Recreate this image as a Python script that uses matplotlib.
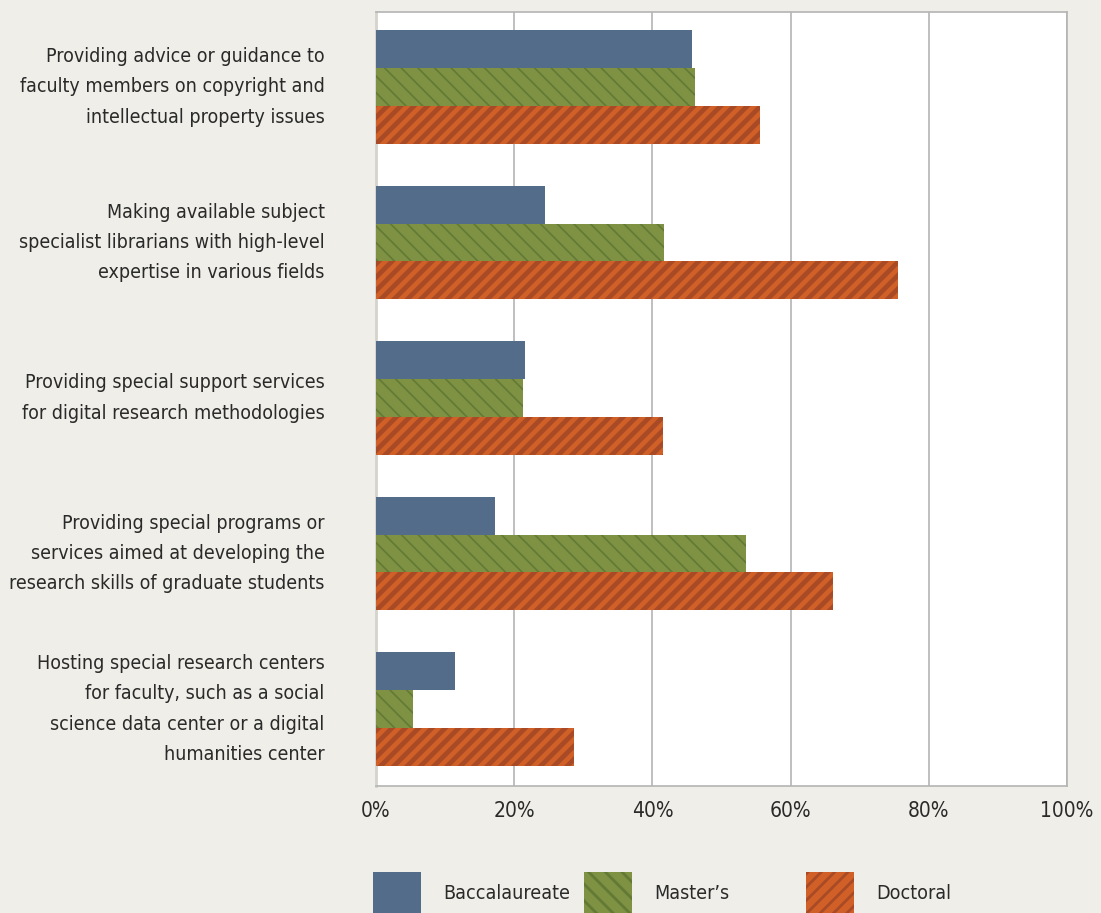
import numpy as np
import matplotlib
matplotlib.use("Agg")
import matplotlib.pyplot as plt

plt.rcParams['font.family'] = ['DejaVu Sans']
plt.rcParams['font.stretch'] = 'condensed'

categories = [
    "Providing advice or guidance to\nfaculty members on copyright and\nintellectual property issues",
    "Making available subject\nspecialist librarians with high-level\nexpertise in various fields",
    "Providing special support services\nfor digital research methodologies",
    "Providing special programs or\nservices aimed at developing the\nresearch skills of graduate students",
    "Hosting special research centers\nfor faculty, such as a social\nscience data center or a digital\nhumanities center",
]
series_names = ["Baccalaureate", "Master\u2019s", "Doctoral"]
baccalaureate = [45.8, 24.5, 21.6, 17.2, 11.4]
masters = [46.2, 41.7, 21.3, 53.6, 5.4]
doctoral = [55.5, 75.5, 41.6, 66.1, 28.7]
xticks = [0, 20, 40, 60, 80, 100]

DPI = 200
W, H = 1101, 913
fig = plt.figure(figsize=(W / DPI, H / DPI), dpi=DPI, facecolor='#efeee8')
ax = fig.add_axes([376 / W, 1 - 786 / H, 691 / W, 774 / H])
ax.set_facecolor('white')

y = np.arange(len(categories))
h = 0.244
styles = [
    dict(color='#536c8a', hatch=None, hc='#536c8a', hlw=0.5),
    dict(color='#7f9142', hatch='\\\\\\\\', hc='#627a35', hlw=0.6),
    dict(color='#d06027', hatch='/////', hc='#a84a25', hlw=1.7),
]
data = [baccalaureate, masters, doctoral]
bars = []
for k, (vals, st) in enumerate(zip(data, styles)):
    with plt.rc_context({'hatch.linewidth': st['hlw']}):
        b = ax.barh(y + (k - 1) * h, vals, height=h, color=st['color'],
                    edgecolor=st['hc'], linewidth=0, hatch=st['hatch'],
                    label=series_names[k], zorder=3)
    bars.append(b)

ax.set_xlim(0, 100)
ax.set_ylim(4.495, -0.482)
ax.set_xticks(xticks)
ax.set_xticklabels([f"{t}%" for t in xticks], fontsize=7.5, color='#2a2a2a')
ax.set_yticks(y)
ax.set_yticklabels(categories, fontsize=7.0, color='#2a2a2a', linespacing=1.75)
for lab in ax.get_yticklabels():
    lab.set_va('center')
ax.tick_params(axis='y', length=0, pad=18.5)
ax.tick_params(axis='x', length=0, pad=5.5)
ax.grid(axis='x', color='#b4b4b4', linewidth=0.6, zorder=0)
for s in ['top', 'right', 'bottom']:
    ax.spines[s].set_color('#b4b4b4')
    ax.spines[s].set_linewidth(0.6)
ax.spines['left'].set_color('#d4d4cc')
ax.spines['left'].set_linewidth(1.0)

# legend, one entry at a time so each sits where the reference has it
leg_x = [373, 584, 806]
for b, name, lx in zip(bars, series_names, leg_x):
    lg = fig.legend([b], [name], loc='center left',
                    bbox_to_anchor=(lx / W, 1 - 893 / H),
                    frameon=False, fontsize=7.05, handlelength=2.45,
                    handleheight=2.9, handletextpad=1.15, borderpad=0,
                    borderaxespad=0, labelcolor='#2a2a2a')

fig.savefig('out.png', dpi=DPI, facecolor=fig.get_facecolor())
